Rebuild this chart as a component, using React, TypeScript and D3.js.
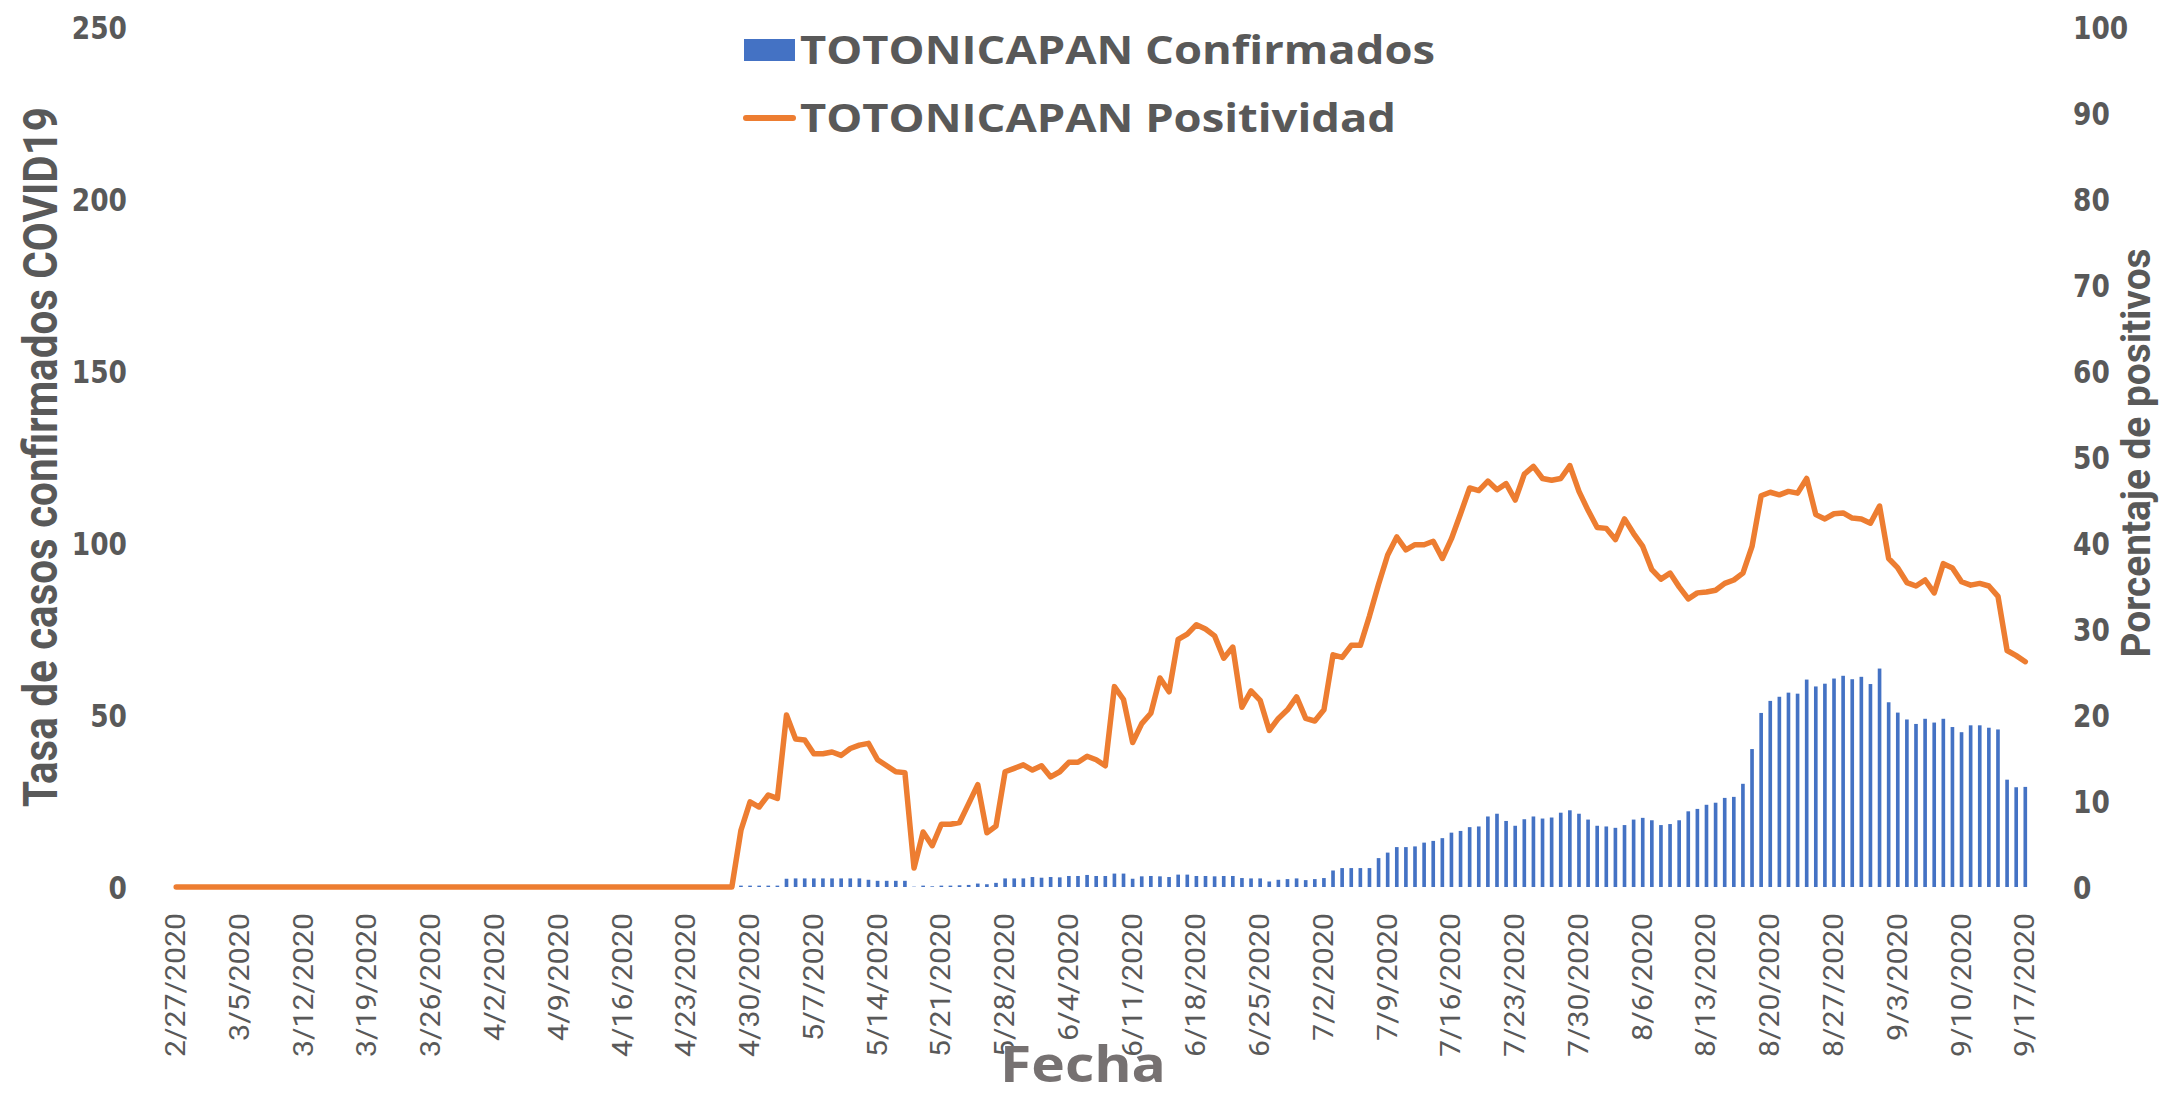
import React from 'react';
import * as d3 from 'd3';

const W = 2172;
const H = 1097;

// categories: one per day, 2/27/2020 .. 9/17/2020
const dates = d3.timeDay.range(new Date(2020, 1, 27), new Date(2020, 8, 18));
const fmt = (d: Date) => `${d.getMonth() + 1}/${d.getDate()}/${d.getFullYear()}`;

// tasa de casos confirmados (eje izquierdo)
const confirmados = [
  0, 0, 0, 0, 0, 0, 0, 0, 0, 0,
  0, 0, 0, 0, 0, 0, 0, 0, 0, 0,
  0, 0, 0, 0, 0, 0, 0, 0, 0, 0,
  0, 0, 0, 0, 0, 0, 0, 0, 0, 0,
  0, 0, 0, 0, 0, 0, 0, 0, 0, 0,
  0, 0, 0, 0, 0, 0, 0, 0, 0, 0,
  0, 0,
  0.4, 0.4, 0.4, 0.4, 0.4,
  2.4, 2.5, 2.5, 2.5, 2.5, 2.5, 2.5, 2.5, 2.5,
  2.1, 1.8, 1.8, 1.8, 1.8,
  0.1, 0.4, 0.2, 0.4, 0.4, 0.5, 0.6, 1.0, 0.8, 1.2,
  2.5, 2.5, 2.5, 2.9, 2.7, 2.9, 2.8, 3.2, 3.2,
  3.5, 3.2, 3.2, 3.9, 3.9, 2.4, 3.1, 3.2, 3.1, 2.9,
  3.6, 3.6, 3.2, 3.2, 3.1, 3.2, 3.2, 2.6, 2.5, 2.5,
  1.6, 2.1, 2.3, 2.5, 2.0, 2.3, 2.6, 4.8, 5.5, 5.5,
  5.5, 5.5, 8.4, 10.0, 11.6, 11.6, 11.8, 12.9, 13.4, 14.2,
  15.8, 16.3, 17.4, 17.6, 20.5, 21.3, 19.2, 17.8, 19.7, 20.5,
  19.9, 20.2, 21.6, 22.3, 21.3, 19.6, 17.8, 17.6, 17.2, 18.0,
  19.6, 20.1, 19.4, 18.0, 18.3, 19.4, 22.0, 22.7, 23.9, 24.5,
  25.9, 26.2, 30.0, 40.1, 50.6, 54.1, 55.3, 56.5, 56.2, 60.3,
  58.3, 59.1, 60.6, 61.4, 60.4, 61.1, 59.0, 63.5, 53.7, 50.7,
  48.7, 47.4, 48.9, 47.8, 48.9, 46.5, 45.0, 47.0, 47.0, 46.3,
  45.8, 31.2, 29.0, 29.1,
];

// porcentaje de positividad (eje derecho)
const positividad = [
  0, 0, 0, 0, 0, 0, 0, 0, 0, 0,
  0, 0, 0, 0, 0, 0, 0, 0, 0, 0,
  0, 0, 0, 0, 0, 0, 0, 0, 0, 0,
  0, 0, 0, 0, 0, 0, 0, 0, 0, 0,
  0, 0, 0, 0, 0, 0, 0, 0, 0, 0,
  0, 0, 0, 0, 0, 0, 0, 0, 0, 0,
  0, 0,
  6.6, 9.9, 9.3, 10.7, 10.3,
  20.0, 17.2, 17.1, 15.5, 15.5, 15.7, 15.3, 16.1, 16.5, 16.7,
  14.8, 14.1, 13.4, 13.3, 2.2, 6.4, 4.8, 7.3, 7.3, 7.5,
  9.7, 11.9, 6.3, 7.1, 13.4, 13.8, 14.2, 13.6, 14.1, 12.8,
  13.4, 14.5, 14.5, 15.2, 14.8, 14.1, 23.3, 21.8, 16.8, 19.0,
  20.2, 24.3, 22.7, 28.8, 29.4, 30.5, 30.0, 29.2, 26.6, 27.9,
  20.9, 22.8, 21.7, 18.2, 19.6, 20.6, 22.1, 19.6, 19.3, 20.6,
  27.0, 26.7, 28.1, 28.1, 31.5, 35.2, 38.6, 40.7, 39.2, 39.8,
  39.8, 40.2, 38.2, 40.5, 43.4, 46.4, 46.1, 47.2, 46.2, 46.9,
  45.0, 48.0, 48.9, 47.5, 47.3, 47.5, 49.0, 46.0, 43.8, 41.8,
  41.7, 40.4, 42.8, 41.1, 39.6, 36.9, 35.8, 36.5, 34.9, 33.5,
  34.2, 34.3, 34.5, 35.3, 35.7, 36.5, 39.6, 45.5, 45.9, 45.6,
  46.0, 45.8, 47.5, 43.3, 42.8, 43.4, 43.5, 42.9, 42.8, 42.3,
  44.3, 38.2, 37.1, 35.4, 35.0, 35.7, 34.2, 37.6, 37.1, 35.5,
  35.1, 35.3, 35.0, 33.8, 27.5, 26.9, 26.2,
];

const leftTicks = [0, 50, 100, 150, 200, 250];
const rightTicks = [0, 10, 20, 30, 40, 50, 60, 70, 80, 90, 100];

const BLUE = '#4472C4';
const ORANGE = '#ED7D31';
const GREY = '#595959';

export default function App() {
  const labels = dates.map(fmt);
  const step = (2025.3 - 176.2) / (labels.length - 1);

  const x = d3.scaleBand<string>()
    .domain(labels)
    .range([176.2 - step / 2, 2025.3 + step / 2])
    .paddingInner(0.6)
    .paddingOuter(0.3);
  const cx = (l: string) => (x(l) as number) + x.bandwidth() / 2;

  const yL = d3.scaleLinear().domain([0, 250]).range([887, 27]);
  const yR = d3.scaleLinear().domain([0, 100]).range([887, 27]);

  const line = d3.line<number>()
    .x((_, i) => cx(labels[i]))
    .y((d) => yR(d));

  const tickLabels = labels.filter((_, i) => i % 7 === 0);

  return (
    <div style={{ position: 'absolute', left: 0, top: 0 }}>
      <svg width={W} height={H} style={{ display: 'block', background: '#fff' }}>
        {/* bars */}
        {confirmados.map((v, i) => (
          <rect key={i} x={x(labels[i])} width={x.bandwidth()}
            y={yL(v)} height={yL(0) - yL(v)} fill={BLUE} />
        ))}
        {/* line */}
        <path d={line(positividad) || ''} fill="none" stroke={ORANGE}
          strokeWidth={5.5} strokeLinejoin="round" strokeLinecap="round" />

        {/* left axis */}
        {leftTicks.map((t) => (
          <text key={t} x={127} y={yL(t)} dy="0.36em" textAnchor="end"
            fontFamily="DejaVu Sans" fontWeight="bold" fontSize={32} fill={GREY}
            textLength={String(t).length * 18.4} lengthAdjust="spacingAndGlyphs">{t}</text>
        ))}
        {/* right axis */}
        {rightTicks.map((t) => (
          <text key={t} x={2073} y={yR(t)} dy="0.36em" textAnchor="start"
            fontFamily="DejaVu Sans" fontWeight="bold" fontSize={32} fill={GREY}
            textLength={String(t).length * 18.4} lengthAdjust="spacingAndGlyphs">{t}</text>
        ))}

        {/* x tick labels */}
        {tickLabels.map((l) => (
          <text key={l} transform={`translate(${cx(l) + 9},913) rotate(-90)`}
            textAnchor="end" fontFamily="Roboto" fontSize={27} fill={GREY}
            textLength={l.length * 16} lengthAdjust="spacingAndGlyphs">{l}</text>
        ))}

        {/* axis titles */}
        <text transform="translate(57,457) rotate(-90)" textAnchor="middle"
          fontFamily="Roboto" fontWeight="bold" fontSize={48} fill={GREY}
          textLength={700} lengthAdjust="spacingAndGlyphs">Tasa de casos confirmados COVID19</text>
        <text transform="translate(2150,453) rotate(-90)" textAnchor="middle"
          fontFamily="Roboto" fontWeight="bold" fontSize={40} fill={GREY}
          textLength={409} lengthAdjust="spacingAndGlyphs">Porcentaje de positivos</text>
        <text x={1083} y={1082} textAnchor="middle" fontFamily="Open Sans" fontWeight="bold"
          fontSize={50} fill="#767171" textLength={166} lengthAdjust="spacingAndGlyphs">Fecha</text>

        {/* legend */}
        <rect x={744} y={39} width={51} height={22} fill={BLUE} />
        <text x={800} y={50} dy="0.36em" fontFamily="Open Sans" fontWeight="bold"
          fontSize={39} fill={GREY} textLength={635} lengthAdjust="spacingAndGlyphs">TOTONICAPAN Confirmados</text>
        <line x1={746} x2={793} y1={118} y2={118} stroke={ORANGE} strokeWidth={6} strokeLinecap="round" />
        <text x={800} y={118} dy="0.36em" fontFamily="Open Sans" fontWeight="bold"
          fontSize={39} fill={GREY} textLength={596} lengthAdjust="spacingAndGlyphs">TOTONICAPAN Positividad</text>
      </svg>
    </div>
  );
}
